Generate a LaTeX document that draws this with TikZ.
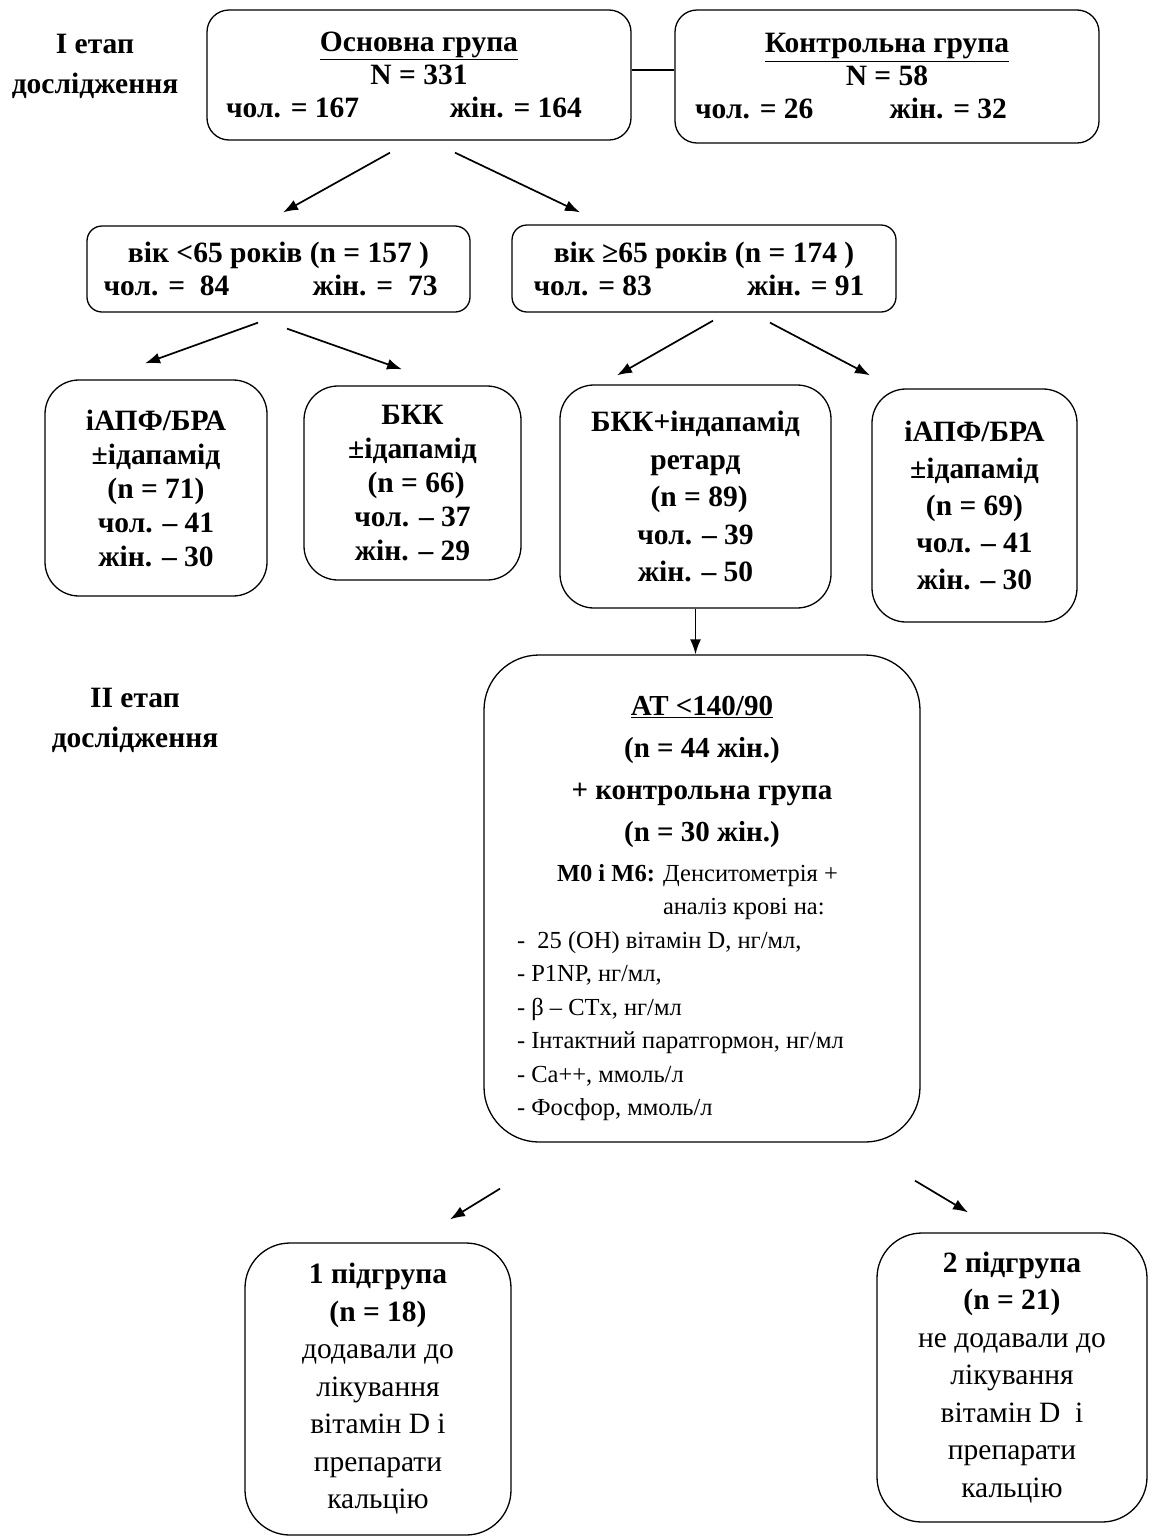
\documentclass[tikz,border=0pt]{standalone}
\usepackage{fontspec}
\setmainfont{Liberation Serif}
\usetikzlibrary{arrows.meta,calc,positioning}

\tikzset{
  grp/.style={draw, line width=1.3pt, rounded corners=22pt, align=center, inner sep=0pt,
    font=\bfseries\fontsize{29.5}{33}\selectfont},
  agebox/.style={grp, rounded corners=15pt},
  therapy/.style={grp, rounded corners=34pt, font=\bfseries\fontsize{29.5}{34}\selectfont},
  subgrp/.style={grp, rounded corners=45pt, font=\fontsize{29.5}{37.5}\selectfont},
  stage/.style={align=center, font=\bfseries\fontsize{29.5}{40}\selectfont},
  arr/.style={->, >={Latex[length=15pt,width=11pt]}, line width=1.7pt},
}

\begin{document}
\begin{tikzpicture}[x=1pt, y=-1pt]
  \useasboundingbox (0,0) rectangle (1149,1537);

  % stage I
  \node[stage] (stageA) at (95,66) {I етап\\дослідження};
  \node[grp, minimum width=424pt, minimum height=130pt] (main) at (419,75)
    {\underline{Основна група}\\N = 331\\\makebox[356pt]{чол. = 167\hfill жін. = 164}\hspace*{30pt}};
  \node[grp, minimum width=424pt, minimum height=133pt] (control) at (887,76.5)
    {\underline{Контрольна група}\\N = 58\\\makebox[312pt]{чол. = 26\hfill жін. = 32}\hspace*{72pt}};
  \draw[line width=1.3pt] ([yshift=5pt]main.east) -- ([yshift=5pt]main.east -| control.west);

  % age groups
  \node[agebox, minimum width=383pt, minimum height=86pt] (young) at (278.5,269)
    {вік <65 років (n = 157 )\\\makebox[334pt]{чол. =\ \ 84\hfill жін. =\ \ 73}\hspace*{16pt}};
  \node[agebox, minimum width=384pt, minimum height=87pt] (old) at (704,268.5)
    {вік ≥65 років (n = 174 )\\\makebox[331pt]{чол. = 83\hfill жін. = 91}\hspace*{10pt}};

  % therapy groups
  \node[therapy, minimum width=222pt, minimum height=216pt] (acebox) at (156,488)
    {іАПФ/БРА\\±ідапамід\\(n = 71)\\чол. – 41\\жін. – 30};
  \node[therapy, minimum width=217pt, minimum height=194pt] (ccbbox) at (412.5,483)
    {БКК\\±ідапамід\\\ (n = 66)\\чол. – 37\\жін. – 29};
  \node[therapy, font=\bfseries\fontsize{29.5}{37.5}\selectfont, minimum width=271pt, minimum height=223pt] (combo) at (695.5,496.5)
    {БКК+індапамід\\ретард\\\ (n = 89)\\чол. – 39\\жін. – 50};
  \node[therapy, font=\bfseries\fontsize{29.5}{37}\selectfont, minimum width=205pt, minimum height=233pt] (aceold) at (974.5,505.5)
    {іАПФ/БРА\\±ідапамід\\(n = 69)\\чол. – 41\\жін. – 30};

  % stage II
  \node[stage] (stageB) at (135,720) {II етап\\дослідження};
  \node[grp, rounded corners=55pt, minimum width=436pt, minimum height=487pt,
        text width=370pt, align=flush left] (target) at (702,898.5)
    {{\centering\fontsize{29}{42}\selectfont\rule{0pt}{40pt}\underline{АТ <140/90}\\(n = 44 жін.)\\+ контрольна група\\(n = 30 жін.)\par}
     \vspace{6pt}
     {\mdseries\fontsize{24.5}{33.5}\selectfont
      \hspace*{40pt}\textbf{М0 і М6:} Денситометрія +\\
      \hspace*{146pt}аналіз крові на:\\
      -\ \ 25 (OH) вітамін D, нг/мл,\\
      - P1NP, нг/мл,\\
      - β – CTx, нг/мл\\
      - Інтактний паратгормон, нг/мл\\
      - Ca++, ммоль/л\\
      - Фосфор, ммоль/л\par}};

  % subgroups
  \node[subgrp, minimum width=266pt, minimum height=292pt] (subA) at (378,1389)
    {\textbf{1 підгрупа}\\\textbf{(n = 18)}\\додавали до\\лікування\\вітамін D і\\препарати\\кальцію};
  \node[subgrp, minimum width=270pt, minimum height=289pt] (subB) at (1012,1377.5)
    {\textbf{2 підгрупа}\\\textbf{(n = 21)}\\не додавали до\\лікування\\вітамін D\ \ і\\препарати\\кальцію};

  % arrow ends
  \coordinate (m1) at ($(main.south)+(-29,12)$);
  \coordinate (m2) at ($(main.south)+(36,12)$);
  \coordinate (y0) at ($(young.north)+(4.5,-13)$);
  \coordinate (o0) at ($(old.north)+(-124,-12)$);
  \coordinate (y1) at ($(young.south)+(-20.5,10)$);
  \coordinate (y2) at ($(young.south)+(8.5,16)$);
  \coordinate (a0) at ($(acebox.north)+(-11,-16)$);
  \coordinate (c0) at ($(ccbbox.north)+(-10.5,-16)$);
  \coordinate (o1) at ($(old.south)+(9,8)$);
  \coordinate (o2) at ($(old.south)+(66,10)$);
  \coordinate (k0) at ($(combo.north)+(-78.5,-9)$);
  \coordinate (r0) at ($(aceold.north)+(-104.5,-13)$);
  \coordinate (t1) at ($(target.south)+(-202,46)$);
  \coordinate (t2) at ($(target.south)+(213,38)$);
  \coordinate (s1) at ($(subA.north)+(72,-23)$);
  \coordinate (s2) at ($(subB.north)+(-44,-20)$);

  \foreach \from/\to in {m1/y0, m2/o0, y1/a0, y2/c0, o1/k0, o2/r0, t1/s1, t2/s2}
    \draw[arr] (\from) -- (\to);
  \draw[arr] (combo.south) -- (combo.south |- target.north);
\end{tikzpicture}
\end{document}
